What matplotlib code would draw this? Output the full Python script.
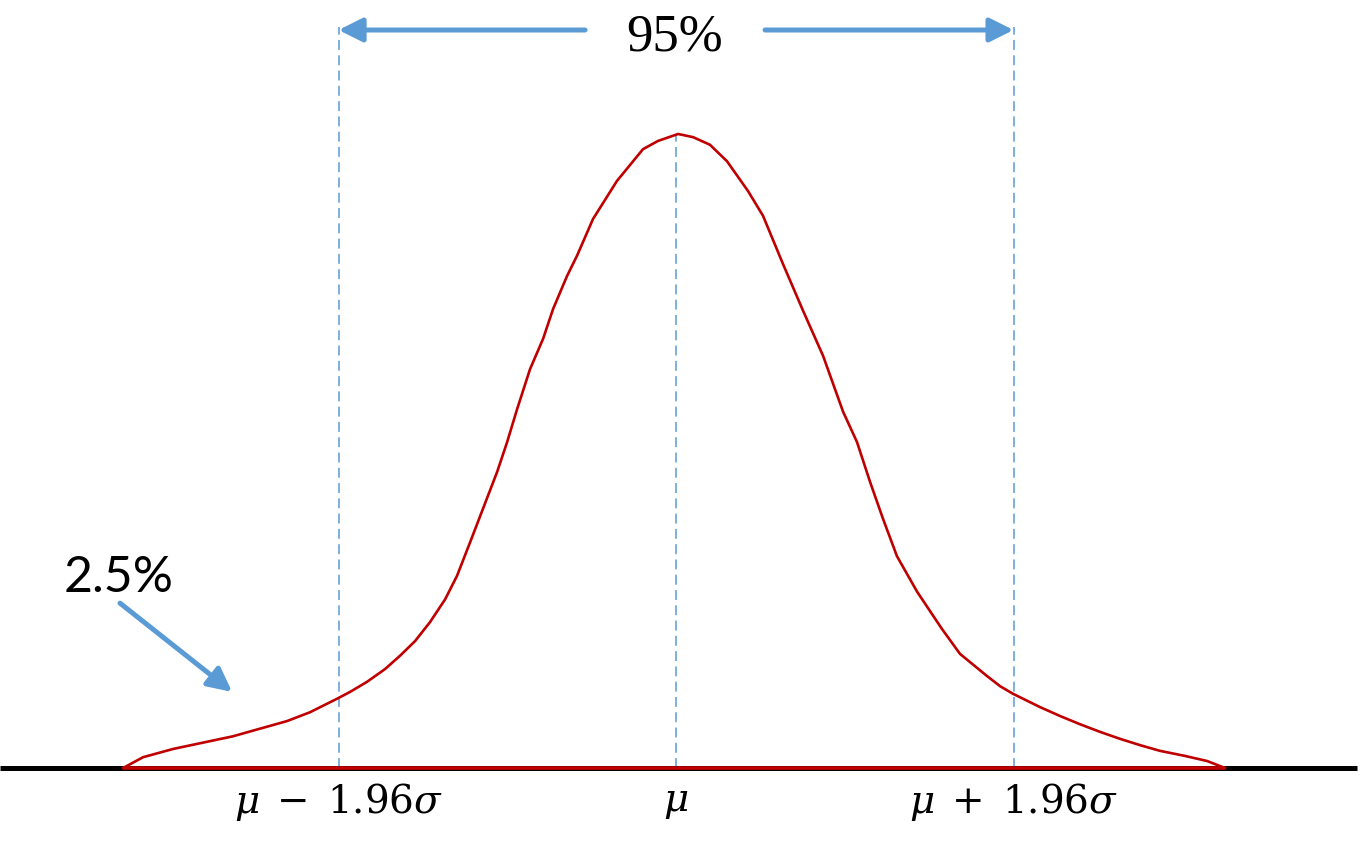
import numpy as np
import matplotlib.pyplot as plt

plt.rcParams['mathtext.fontset'] = 'dejavuserif'

# curve: x in sigma units from mu, height relative to peak
z_curve = [-3.211, -3.095, -2.921, -2.764, -2.573, -2.416, -2.259, -2.125, -1.963,
           -1.893, -1.794, -1.690, -1.603, -1.516, -1.429, -1.341,
           -1.272, -1.196, -1.138, -1.039, -0.981, -0.923, -0.848, -0.772, -0.714,
           -0.633, -0.575, -0.482, -0.343, -0.192, -0.105, 0.012,
           0.099, 0.197, 0.296, 0.418, 0.505, 0.621, 0.738, 0.854, 0.970, 1.051,
           1.127, 1.202, 1.283, 1.400, 1.545, 1.649, 1.806, 1.882, 1.957, 2.114,
           2.230, 2.346, 2.462, 2.578, 2.695, 2.811, 2.956, 3.084, 3.188]
h_curve = [0.000, 0.017, 0.030, 0.039, 0.050, 0.062, 0.074, 0.088, 0.110,
           0.120, 0.136, 0.156, 0.177, 0.200, 0.230, 0.266,
           0.303, 0.356, 0.397, 0.467, 0.514, 0.566, 0.629, 0.677, 0.724,
           0.776, 0.808, 0.866, 0.926, 0.976, 0.989, 1.000,
           0.995, 0.983, 0.957, 0.910, 0.871, 0.795, 0.721, 0.650, 0.562, 0.514,
           0.451, 0.393, 0.334, 0.278, 0.219, 0.180, 0.145, 0.129, 0.117, 0.096,
           0.082, 0.069, 0.057, 0.046, 0.036, 0.027, 0.019, 0.011, 0.000]

crit = 1.96
z_marks = [-crit, 0, crit]
mark_labels = [r'$\mu\;-\;1.96\sigma$', r'$\mu$', r'$\mu\;+\;1.96\sigma$']
centre_label = '95%'
tail_label = '2.5%'

blue = '#5B9BD5'
red = '#C00000'

fig = plt.figure(figsize=(13.6, 8.45), dpi=100)
ax = fig.add_axes([0, 0, 1, 1])
ax.set_xlim(-3.926, 3.972)
ax.set_ylim(-0.1199, 1.2129)
ax.axis('off')

# baseline, red under the curve
ax.plot([-3.926, 3.955], [0, 0], c='k', lw=3.6, solid_capstyle='butt', zorder=2)
ax.plot([z_curve[0], z_curve[-1]], [0, 0], c=red, lw=2.6, solid_capstyle='butt', zorder=3)

# bell curve
ax.plot(z_curve, h_curve, c=red, lw=1.9, zorder=3)

# dashed guides
top = 1.169
for z in z_marks:
    ytop = top if z != 0 else max(h_curve)
    ax.plot([z, z], [0, ytop], c=blue, lw=1.1, ls=(0, (6.5, 3.5)), zorder=1)

# 95% arrows
arr = dict(arrowstyle='-|>,head_length=0.6,head_width=0.3', color=blue, lw=3.6,
           mutation_scale=24, shrinkA=0, shrinkB=0)
ax.annotate('', xy=(-crit, 1.164), xytext=(-0.528, 1.164), arrowprops=arr)
ax.annotate('', xy=(crit, 1.164), xytext=(0.517, 1.164), arrowprops=arr)
ax.text(-0.006, 1.153, centre_label, ha='center', va='center', fontsize=38,
        family='Liberation Serif')

# 2.5% pointer
ax.annotate('', xy=(-2.578, 0.120), xytext=(-3.229, 0.260), arrowprops=arr)
ax.text(-3.240, 0.301, tail_label, ha='center', va='center', fontsize=36, family='Lato')

for z, lab in zip(z_marks, mark_labels):
    ax.text(z, -0.052, lab, ha='center', va='center', fontsize=28)

fig.savefig('out.png', dpi=100)
